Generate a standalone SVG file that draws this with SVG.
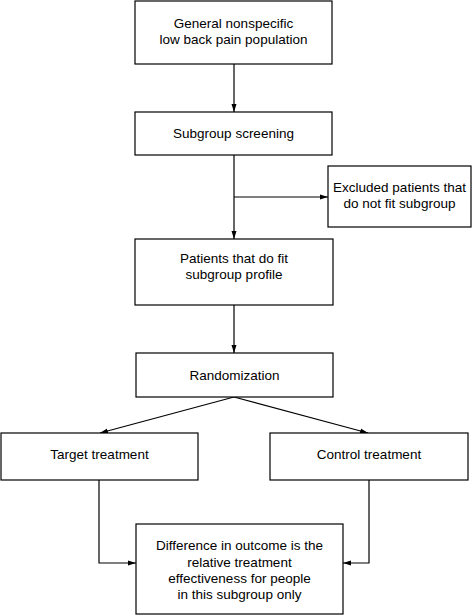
<svg xmlns="http://www.w3.org/2000/svg" width="473" height="616" viewBox="0 0 473 616">
<defs>
<marker id="ah" markerWidth="8" markerHeight="6" refX="8" refY="3" orient="auto" markerUnits="userSpaceOnUse">
<path d="M0,0.5 L8,3 L0,5.5 z" fill="#000"/>
</marker>
<style>
rect{fill:#fff;stroke:#000;stroke-width:1.2}
text{font-family:"Liberation Sans",Arial,sans-serif;font-size:13.5px;fill:#000;text-anchor:middle}
.c{fill:none;stroke:#000;stroke-width:1.2}
</style>
</defs>
<rect x="0" y="0" width="473" height="616" style="stroke:none"/>
<g id="connectors">
<path class="c" d="M234,64 V112" marker-end="url(#ah)"/>
<path class="c" d="M234,155 V239" marker-end="url(#ah)"/>
<path class="c" d="M234,197 H328" marker-end="url(#ah)"/>
<path class="c" d="M234,305 V353" marker-end="url(#ah)"/>
<path class="c" d="M234,397 L100,433" marker-end="url(#ah)"/>
<path class="c" d="M234,397 L368,433" marker-end="url(#ah)"/>
<path class="c" d="M99,480 V563 H136" marker-end="url(#ah)"/>
<path class="c" d="M369,480 V563 H343" marker-end="url(#ah)"/>
</g>
<g id="general"><rect x="135" y="1" width="197" height="63"/><text x="233.5" y="28">General nonspecific</text><text x="233.5" y="44">low back pain population</text></g>
<g id="screening"><rect x="135" y="112" width="197" height="43"/><text x="233.5" y="138">Subgroup screening</text></g>
<g id="excluded"><rect x="328" y="166" width="143" height="61"/><text x="399.5" y="192">Excluded patients that</text><text x="399.5" y="208">do not fit subgroup</text></g>
<g id="fit"><rect x="135" y="239" width="198" height="66"/><text x="234" y="263">Patients that do fit</text><text x="234" y="279">subgroup profile</text></g>
<g id="random"><rect x="136" y="353" width="197" height="44"/><text x="234.5" y="380">Randomization</text></g>
<g id="target"><rect x="1" y="433" width="197" height="47"/><text x="99.5" y="459">Target treatment</text></g>
<g id="control"><rect x="270" y="433" width="198" height="47"/><text x="369" y="459">Control treatment</text></g>
<g id="difference"><rect x="136" y="524" width="207" height="90"/><text x="239.5" y="550">Difference in outcome is the</text><text x="239.5" y="567">relative treatment</text><text x="239.5" y="583">effectiveness for people</text><text x="239.5" y="599">in this subgroup only</text></g>
</svg>
